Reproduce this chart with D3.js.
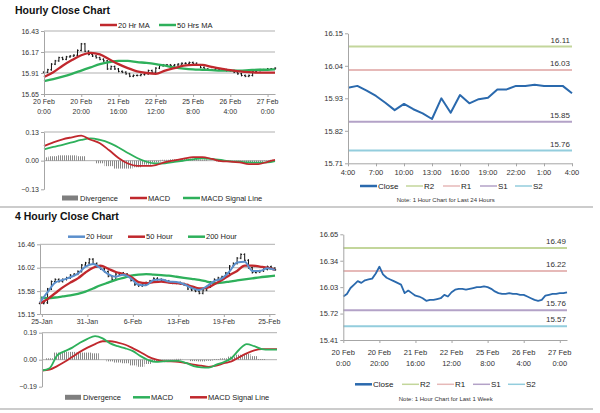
<!DOCTYPE html>
<html><head><meta charset="utf-8">
<script src="https://cdn.jsdelivr.net/npm/d3@7"></script>
<style>body{margin:0;background:#fff}svg text{font-family:"Liberation Sans",Arial,sans-serif}</style>
</head><body>
<svg id="c" width="600" height="413"></svg>
<script>
// ---------------- DATA ----------------
// Hourly close (every 2 hours, 20 Feb 0:00 .. 27 Feb 4:00, trading hours)
const hourlyStep = 2;
const hourlyClose = [15.92,15.95,16.02,16.06,16.10,16.08,16.11,16.12,16.13,16.19,16.27,16.18,16.14,16.12,16.10,16.08,16.06,15.96,15.99,15.96,15.93,15.92,15.90,15.87,15.88,15.88,15.89,15.90,15.94,15.92,15.97,16.00,16.01,16.01,16.00,16.01,16.02,16.03,16.03,16.04,16.03,16.01,15.98,15.96,15.95,15.95,15.96,15.95,15.95,15.94,15.94,15.92,15.90,15.88,15.87,15.88,15.93,15.94,15.95,15.95,15.96,15.96,15.97];
const hourlyMaHours = [0,5,10,15,20,25,30,35,40,45,50,55,60,65,70,75,80,85,90,95,100,105,110,115,120,124];
const hourlyMA20 = [15.86,15.92,16.00,16.07,16.13,16.16,16.14,16.08,16.02,15.97,15.93,15.91,15.90,15.94,15.97,16.00,16.01,16.01,15.985,15.965,15.945,15.93,15.92,15.915,15.915,15.915];
const hourlyMA50 = [15.81,15.835,15.865,15.90,15.94,15.98,16.02,16.045,16.06,16.06,16.045,16.035,16.02,16.00,15.98,15.965,15.955,15.95,15.945,15.94,15.94,15.94,15.945,15.95,15.95,15.955];
const hourlyMACD = [0.066,0.083,0.097,0.106,0.114,0.095,0.079,0.047,0.012,-0.013,-0.024,-0.024,-0.020,-0.007,0.001,0.009,0.016,0.016,0.008,-0.002,-0.004,-0.008,-0.016,-0.016,-0.005,0.003];
const hourlySignal = [0.051,0.062,0.072,0.083,0.094,0.101,0.094,0.081,0.060,0.035,0.012,-0.005,-0.013,-0.012,-0.006,0.000,0.006,0.011,0.008,0.003,-0.003,-0.005,-0.008,-0.009,-0.008,-0.002];
const hourlyDiv = [0.015,0.020,0.024,0.024,0.020,0.000,-0.012,-0.025,-0.036,-0.036,-0.030,-0.018,-0.008,0.004,0.006,0.008,0.009,0.005,0.000,-0.004,-0.002,-0.004,-0.008,-0.007,0.002,0.004];
const hourlyYTicks = [15.65,15.91,16.17,16.43];
const hourlyMacdTicks = [-0.13,0.00,0.13];
const hourlyXTicks = [0,20,40,60,80,100,120];
const hourlyXLabels = [["20 Feb","0:00"],["20 Feb","20:00"],["21 Feb","16:00"],["22 Feb","12:00"],["25 Feb","8:00"],["26 Feb","4:00"],["27 Feb","0:00"]];

// Last 24 hours close
const dayClose = [15.966,15.972,15.956,15.938,15.915,15.890,15.911,15.893,15.879,15.860,15.930,15.881,15.941,15.913,15.927,15.932,15.960,15.960,15.972,15.972,15.976,15.972,15.972,15.972,15.947];
const dayXLabels = ["4:00","7:00","10:00","13:00","16:00","19:00","22:00","1:00","4:00"];
const dayYTicks = [15.71,15.82,15.93,16.04,16.15];
const dayLevels = [16.105,16.026,15.851,15.753];
const dayLevelLabels = ["16.11","16.03","15.85","15.76"];

// 4-hourly
const fourStep = 2;
const fourClose = [15.35,15.36,15.62,15.76,15.80,15.76,15.80,15.83,15.88,15.90,15.95,16.07,16.11,16.18,16.10,16.04,16.00,15.95,15.86,15.80,15.90,15.92,15.90,15.86,15.78,15.70,15.68,15.70,15.74,15.77,15.82,15.80,15.78,15.77,15.75,15.73,15.74,15.72,15.70,15.62,15.60,15.58,15.54,15.60,15.66,15.75,15.80,15.83,15.85,15.92,16.05,16.10,16.20,16.27,16.16,16.02,15.93,15.94,15.96,15.99,16.04,16.01,15.98];
const fourMaBars = [0,4,8,12,16,20,24,28,32,36,40,44,48,52,56,60,64,68,72,76,80,84,88,92,96,100,104,108,112,116,120,124];
const four20 = [15.37,15.56,15.74,15.79,15.84,15.91,16.04,16.09,16.01,15.90,15.85,15.89,15.82,15.70,15.69,15.79,15.80,15.76,15.75,15.71,15.64,15.60,15.67,15.77,15.82,15.95,16.12,16.13,15.96,15.96,16.01,15.98];
const four50 = [15.35,15.43,15.54,15.65,15.74,15.82,15.93,16.02,16.06,16.00,15.94,15.90,15.85,15.75,15.73,15.75,15.76,15.74,15.73,15.71,15.67,15.63,15.64,15.71,15.79,15.88,15.96,16.06,16.06,16.04,16.02,15.98];
const four200 = [15.46,15.45,15.46,15.48,15.50,15.53,15.57,15.63,15.69,15.74,15.79,15.83,15.87,15.89,15.90,15.89,15.88,15.87,15.85,15.83,15.81,15.79,15.76,15.73,15.74,15.76,15.78,15.80,15.82,15.84,15.855,15.87];
const fourMACD = [-0.076,-0.060,0.030,0.060,0.085,0.119,0.147,0.166,0.150,0.115,0.095,0.080,0.060,0.025,-0.002,-0.016,-0.012,-0.008,-0.008,-0.023,-0.045,-0.054,-0.056,-0.035,-0.017,0.012,0.070,0.110,0.095,0.075,0.071,0.071];
const fourSignal = [-0.076,-0.070,-0.045,-0.015,0.020,0.055,0.085,0.110,0.130,0.130,0.120,0.105,0.080,0.053,0.022,0.002,-0.010,-0.012,-0.016,-0.024,-0.035,-0.042,-0.050,-0.042,-0.025,-0.012,0.017,0.045,0.065,0.074,0.074,0.074];
const fourDiv = [0.000,0.010,0.050,0.055,0.055,0.050,0.050,0.045,0.000,-0.012,-0.020,-0.025,-0.040,-0.050,-0.030,-0.010,-0.004,0.002,0.006,0.000,-0.010,-0.012,-0.008,0.005,0.010,0.022,0.035,0.040,0.025,0.005,0.000,0.000];
const fourYTicks = [15.15,15.58,16.02,16.46];
const fourMacdTicks = [-0.19,0.00,0.19];
const fourXTicks = [1,25,49,73,97,121];
const fourXLabels = ["25-Jan","31-Jan","6-Feb","13-Feb","19-Feb","25-Feb"];

// Last week (hourly close reused)
const weekYTicks = [15.41,15.72,16.03,16.34,16.65];
const weekLevels = [16.49,16.22,15.76,15.57];
const weekLevelLabels = ["16.49","16.22","15.76","15.57"];
const levelNames = ["R2","R1","S1","S2"];

// ---------------- DRAW ----------------
const svg = d3.select("#c");
const AX = "#a6a6a6", TXT = "#333";
const levelColors = ["#c3d69b","#e6b9b8","#b3a2c7","#93cddd"];
const RED = "#c0282d", GREEN = "#2eb05b", BLUE = "#5b8fcc", CLOSE = "#2a69ad";

const defs = svg.append("defs");
const pat = defs.append("pattern").attr("id","stripes").attr("patternUnits","userSpaceOnUse").attr("width",2).attr("height",4);
pat.append("rect").attr("width",0.9).attr("height",4).attr("fill","#7a7a7a");

function T(x,y,s,o={}){
  return svg.append("text").attr("x",x).attr("y",y).attr("font-size",o.fs||7).attr("fill",o.fill||TXT)
    .attr("text-anchor",o.anchor||"start").attr("font-weight",o.bold?"bold":null).text(s);
}
function yAxis(scale,ticks,x,fmt,fs){
  const g = svg.append("g").attr("transform",`translate(${x},0)`)
    .call(d3.axisLeft(scale).tickValues(ticks).tickSize(3).tickSizeOuter(0).tickFormat(fmt));
  g.select(".domain").attr("stroke",AX);
  g.selectAll(".tick line").attr("stroke",AX);
  g.selectAll(".tick text").attr("font-size",fs||7).attr("fill",TXT).attr("x",-5).style("font-family",'"Liberation Sans",Arial,sans-serif');
}
function xAxis(scale,ticks,y,labels,fs,lineGap,offset){
  const g = svg.append("g").attr("transform",`translate(0,${y})`)
    .call(d3.axisBottom(scale).tickValues(ticks).tickSize(3).tickSizeOuter(0).tickFormat(""));
  g.select(".domain").attr("stroke",AX);
  g.selectAll(".tick line").attr("stroke",AX);
  ticks.forEach((t,i)=>{
    const lab = Array.isArray(labels[i])?labels[i]:[labels[i]];
    lab.forEach((s,j)=>{
      svg.append("text").attr("x",scale(t)).attr("y",y+offset+j*lineGap).attr("font-size",fs)
        .attr("fill",TXT).attr("text-anchor","middle").text(s);
    });
  });
}
function grid(x,y,vals){
  vals.forEach(v=>svg.append("line").attr("x1",x.range()[0]).attr("x2",x.range()[1])
    .attr("y1",y(v)).attr("y2",y(v)).attr("stroke",AX).attr("stroke-width",0.9));
}
function line(x,y,xs,vs,color,w,curve){
  svg.append("path").datum(vs).attr("fill","none").attr("stroke",color).attr("stroke-width",w)
    .attr("stroke-linejoin","round")
    .attr("d",d3.line().x((d,i)=>x(xs(i))).y(d=>y(d)).curve(curve||d3.curveLinear));
}
function bars(x,y,vals,step,pad){
  const g = svg.append("g").attr("stroke","#111").attr("stroke-width",1);
  vals.forEach((v,i)=>{
    const p = i>0?vals[i-1]:v, xx = x(i*step);
    g.append("line").attr("x1",xx).attr("x2",xx).attr("y1",y(Math.max(p,v)+pad)).attr("y2",y(Math.min(p,v)-pad));
    g.append("line").attr("x1",xx-1.2).attr("x2",xx).attr("y1",y(p)).attr("y2",y(p));
    g.append("line").attr("x1",xx).attr("x2",xx+1.2).attr("y1",y(v)).attr("y2",y(v));
  });
}
function divBars(x,y,xs,vals,halfW){
  vals.forEach((v,i)=>{
    const x0 = Math.max(x.domain()[0], xs[i]-halfW), x1 = Math.min(x.domain()[1], xs[i]+halfW);
    svg.append("rect").attr("x",x(x0)).attr("width",x(x1)-x(x0))
      .attr("y",Math.min(y(v),y(0))).attr("height",Math.abs(y(v)-y(0))).attr("fill","url(#stripes)");
  });
}
function legend(items,y,fs){
  items.forEach(it=>{
    if(it.bar) svg.append("rect").attr("x",it.x).attr("y",y-2.5).attr("width",16).attr("height",5).attr("fill",it.color);
    else svg.append("line").attr("x1",it.x).attr("x2",it.x+17).attr("y1",y).attr("y2",y).attr("stroke",it.color).attr("stroke-width",it.w||2.5);
    T(it.x+18,y+2.6,it.label,{fs:fs||7.5,fill:"#222"});
  });
}

// separators
[207,409].forEach(yy=>svg.append("line").attr("x1",0).attr("x2",593).attr("y1",yy).attr("y2",yy).attr("stroke","#999").attr("stroke-width",1));

// ===== Panel 1: Hourly close =====
T(15,13.5,"Hourly Close Chart",{fs:10.5,bold:true,fill:"#111"});
const x1 = d3.scaleLinear().domain([0,124]).range([44,275]);
const y1 = d3.scaleLinear().domain([15.65,16.43]).range([94,31]);
grid(x1,y1,[15.91,16.17,16.43]);
bars(x1,y1,hourlyClose,hourlyStep,0.012);
line(x1,y1,i=>hourlyMaHours[i],hourlyMA50,GREEN,2.3,d3.curveMonotoneX);
line(x1,y1,i=>hourlyMaHours[i],hourlyMA20,RED,2.3,d3.curveMonotoneX);
yAxis(y1,hourlyYTicks,44,d3.format(".2f"));
xAxis(x1,hourlyXTicks,94,hourlyXLabels,7,9.5,10);
legend([{x:100,color:RED,label:"20 Hr MA"},{x:159,color:GREEN,label:"50 Hrs MA"}],25);

// MACD hourly
const xm1 = d3.scaleLinear().domain([0,124]).range([44,275]);
const ym1 = d3.scaleLinear().domain([-0.13,0.13]).range([189.3,132]);
grid(xm1,ym1,[0,0.13]);
divBars(xm1,ym1,hourlyMaHours,hourlyDiv,2.5);
line(xm1,ym1,i=>hourlyMaHours[i],hourlySignal,GREEN,1.8,d3.curveMonotoneX);
line(xm1,ym1,i=>hourlyMaHours[i],hourlyMACD,RED,1.8,d3.curveMonotoneX);
yAxis(ym1,hourlyMacdTicks,44,d3.format(".2f"));
legend([{x:62,color:"#7f7f7f",bar:true,label:"Divergence"},{x:130,color:RED,label:"MACD"},{x:183,color:GREEN,label:"MACD Signal Line"}],198);

// ===== Panel 2: last 24 hours =====
const x2 = d3.scaleLinear().domain([0,24]).range([348,572]);
const y2 = d3.scaleLinear().domain([15.71,16.15]).range([163.3,33.3]);
dayLevels.forEach((v,i)=>{
  svg.append("line").attr("x1",x2(0)).attr("x2",x2(24)).attr("y1",y2(v)).attr("y2",y2(v)).attr("stroke",levelColors[i]).attr("stroke-width",2);
  T(570,y2(v)-4,dayLevelLabels[i],{fs:8,anchor:"end"});
});
line(x2,y2,i=>i,dayClose,CLOSE,2);
yAxis(y2,dayYTicks,348,d3.format(".2f"),7.5);
xAxis(x2,d3.range(0,25,3),163.3,dayXLabels,7.5,0,12);
legend([{x:360,color:CLOSE,label:"Close"},{x:406,color:levelColors[0],label:"R2",w:1.5},{x:443,color:levelColors[1],label:"R1",w:1.5},{x:480,color:levelColors[2],label:"S1",w:1.5},{x:515,color:levelColors[3],label:"S2",w:1.5}],186,8);
T(445.7,202,"Note: 1 Hour Chart for Last 24 Hours",{fs:6,anchor:"middle"});

// ===== Panel 3: 4 hourly =====
T(15,219.7,"4 Hourly Close Chart",{fs:10.5,bold:true,fill:"#111"});
const x3 = d3.scaleLinear().domain([0,124]).range([40,275]);
const y3 = d3.scaleLinear().domain([15.15,16.46]).range([314,244.3]);
grid(x3,y3,[15.58,16.02,16.46]);
bars(x3,y3,fourClose,fourStep,0.02);
line(x3,y3,i=>fourMaBars[i],four200,GREEN,2.3,d3.curveMonotoneX);
line(x3,y3,i=>fourMaBars[i],four50,RED,2.3,d3.curveMonotoneX);
line(x3,y3,i=>fourMaBars[i],four20,BLUE,2,d3.curveMonotoneX);
yAxis(y3,fourYTicks,40,d3.format(".2f"));
xAxis(x3,fourXTicks,314,fourXLabels,7,0,10);
legend([{x:68,color:BLUE,label:"20 Hour"},{x:128,color:RED,label:"50 Hour"},{x:188,color:GREEN,label:"200 Hour"}],236.7);

// MACD 4H
const x4 = d3.scaleLinear().domain([0,124]).range([42,277]);
const y4 = d3.scaleLinear().domain([-0.19,0.19]).range([386.7,332.7]);
grid(x4,y4,[0,0.19]);
divBars(x4,y4,fourMaBars,fourDiv,2);
line(x4,y4,i=>fourMaBars[i],fourSignal,RED,1.8,d3.curveMonotoneX);
line(x4,y4,i=>fourMaBars[i],fourMACD,GREEN,1.8,d3.curveMonotoneX);
yAxis(y4,fourMacdTicks,42,d3.format(".2f"));
legend([{x:65,color:"#7f7f7f",bar:true,label:"Divergence"},{x:133,color:GREEN,label:"MACD"},{x:190,color:RED,label:"MACD Signal Line"}],397.3);

// ===== Panel 4: last week =====
const x5 = d3.scaleLinear().domain([0,124]).range([343.3,567]);
const y5 = d3.scaleLinear().domain([15.41,16.65]).range([340,234.3]);
weekLevels.forEach((v,i)=>{
  svg.append("line").attr("x1",x5(0)).attr("x2",x5(124)).attr("y1",y5(v)).attr("y2",y5(v)).attr("stroke",levelColors[i]).attr("stroke-width",2);
  T(566,y5(v)-4,weekLevelLabels[i],{fs:8,anchor:"end"});
});
line(x5,y5,i=>i*hourlyStep,hourlyClose,CLOSE,1.8);
yAxis(y5,weekYTicks,343.3,d3.format(".2f"),7.5);
xAxis(x5,hourlyXTicks,340,hourlyXLabels,7.5,11.5,14.5);
legend([{x:355,color:CLOSE,label:"Close"},{x:402,color:levelColors[0],label:"R2",w:1.5},{x:437,color:levelColors[1],label:"R1",w:1.5},{x:473,color:levelColors[2],label:"S1",w:1.5},{x:508,color:levelColors[3],label:"S2",w:1.5}],384.3,8);
T(445.7,400.5,"Note: 1 Hour Chart for Last 1 Week",{fs:6,anchor:"middle"});
</script>
</body></html>
